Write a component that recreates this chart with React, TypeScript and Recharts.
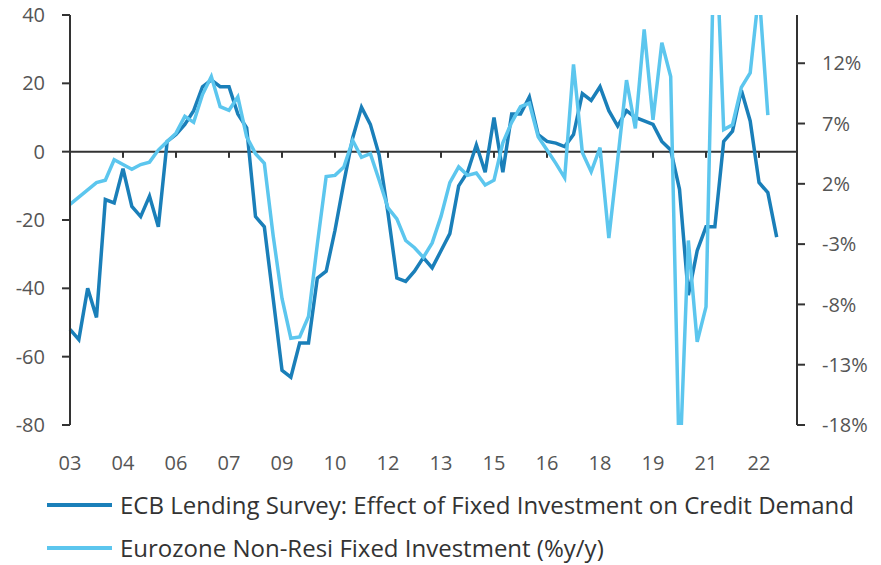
import { LineChart, Line, XAxis, YAxis, ReferenceLine } from 'recharts';

// quarterly, 2003Q1 onwards
const tickQuarters = [0, 6, 12, 18, 24, 30, 36, 42, 48, 54, 60, 66, 72, 78];
const tickLabels = ['03', '04', '06', '07', '09', '10', '12', '13', '15', '16', '18', '19', '21', '22'];

const leftTicks = [-80, -60, -40, -20, 0, 20, 40];
const rightTicks = [-18, -13, -8, -3, 2, 7, 12];

// ECB Lending Survey (left axis)
const lendingSurvey = [
  -52, -55, -40, -48.5, -14, -15, -5, -16, -19, -13,
  -22, 3, 5, 8, 12, 19, 21, 19, 19, 11,
  7, -19, -22, -43, -64, -66, -56, -56, -37, -35,
  -23, -9, 4, 13, 8, -1, -18, -37, -38, -35,
  -31, -34, -29, -24, -10, -6, 2, -6, 10, -6,
  11, 11, 16, 5, 3, 2.5, 1.5, 5, 17, 15,
  19, 12, 7.5, 12, 10, 9, 8, 3, 0.5, -11,
  -42, -29, -22, -22, 3, 6, 18, 9, -9, -12,
  -25,
];

// Eurozone Non-Resi Fixed Investment %y/y (right axis)
const nonResiInvestment = [
  0.3, 0.9, 1.5, 2.1, 2.3, 4.0, 3.6, 3.2, 3.6, 3.8,
  4.8, 5.5, 6.2, 7.6, 7.1, 9.4, 10.9, 8.4, 8.1, 9.2,
  5.9, 4.5, 3.7, -2.3, -7.5, -10.8, -10.7, -9, -3, 2.6,
  2.7, 3.4, 5.6, 4.2, 4.5, 2.3, 0, -0.9, -2.7, -3.3,
  -4.1, -2.9, -0.7, 2.1, 3.4, 2.7, 2.9, 1.9, 2.3, 5.4,
  7.1, 8.4, 8.7, 5.9, 4.8, 3.7, 2.5, 11.9, 4.6, 3.0,
  5.0, -2.5, 4, 10.6, 6.6, 14.8, 7.3, 13.7, 10.9, -22,
  -2.7, -11.1, -8.2, 25, 6.5, 6.9, 10, 11.2, 18, 7.7,
];

const DARK = '#1a7fb9';
const LIGHT = '#5cc6ee';
const AXIS = '#333333';
const TEXT = '#555555';
const FONT = '"Open Sans", "Liberation Sans", sans-serif';

const data = lendingSurvey.map((v, i) => ({
  q: i,
  ecb: v,
  inv: i < nonResiInvestment.length ? nonResiInvestment[i] : null,
}));

const legendItems = [
  { label: 'ECB Lending Survey: Effect of Fixed Investment on Credit Demand', color: DARK },
  { label: 'Eurozone Non-Resi Fixed Investment (%y/y)', color: LIGHT },
];

export default function App() {
  const tickStyle = { fill: TEXT, fontSize: 20, fontFamily: FONT };
  return (
    <div style={{ position: 'absolute', left: 0, top: 0, width: 881, height: 565, background: '#fff' }}>
      <LineChart
        width={881}
        height={475}
        data={data}
        margin={{ top: 15, right: 0, bottom: 0, left: 0 }}
        style={{ fontFamily: FONT }}
      >
        <XAxis
          dataKey="q"
          type="number"
          domain={[0, 82.3]}
          ticks={tickQuarters}
          interval={0}
          tickFormatter={(v: number) => tickLabels[tickQuarters.indexOf(v)] ?? ''}
          axisLine={false}
          tickLine={false}
          tickSize={0}
          tickMargin={31}
          height={50}
          tick={tickStyle}
        />
        <YAxis
          yAxisId="left"
          orientation="left"
          width={70}
          domain={[-80, 40]}
          ticks={leftTicks}
          interval={0}
          axisLine={{ stroke: AXIS, strokeWidth: 2 }}
          tickLine={{ stroke: AXIS, strokeWidth: 2 }}
          tickSize={8}
          tickMargin={17}
          tick={tickStyle}
        />
        <YAxis
          yAxisId="right"
          orientation="right"
          width={84}
          domain={[-18, 16]}
          allowDataOverflow
          ticks={rightTicks}
          interval={0}
          tickFormatter={(v: number) => `${v}%`}
          axisLine={{ stroke: AXIS, strokeWidth: 2 }}
          tickLine={{ stroke: AXIS, strokeWidth: 2 }}
          tickSize={8}
          tickMargin={17}
          tick={{ ...tickStyle, textAnchor: 'start' }}
        />
        <ReferenceLine yAxisId="left" y={0} stroke={AXIS} strokeWidth={2} />
        {tickQuarters.slice(1).map((q) => (
          <ReferenceLine
            key={q}
            yAxisId="left"
            segment={[{ x: q, y: 0 }, { x: q, y: -1.8 }]}
            stroke={AXIS}
            strokeWidth={2}
          />
        ))}
        <Line
          yAxisId="left"
          dataKey="ecb"
          stroke={DARK}
          strokeWidth={3.5}
          dot={false}
          isAnimationActive={false}
        />
        <Line
          yAxisId="right"
          dataKey="inv"
          stroke={LIGHT}
          strokeWidth={3.5}
          dot={false}
          isAnimationActive={false}
        />
      </LineChart>
      <div style={{ position: 'absolute', left: 47, top: 483, fontFamily: FONT, fontSize: 24, color: '#333333' }}>
        {legendItems.map((it) => (
          <div key={it.label} style={{ display: 'flex', alignItems: 'center', height: 43, whiteSpace: 'nowrap' }}>
            <span style={{ display: 'inline-block', width: 65, height: 4, background: it.color, marginRight: 8 }} />
            <span>{it.label}</span>
          </div>
        ))}
      </div>
    </div>
  );
}
